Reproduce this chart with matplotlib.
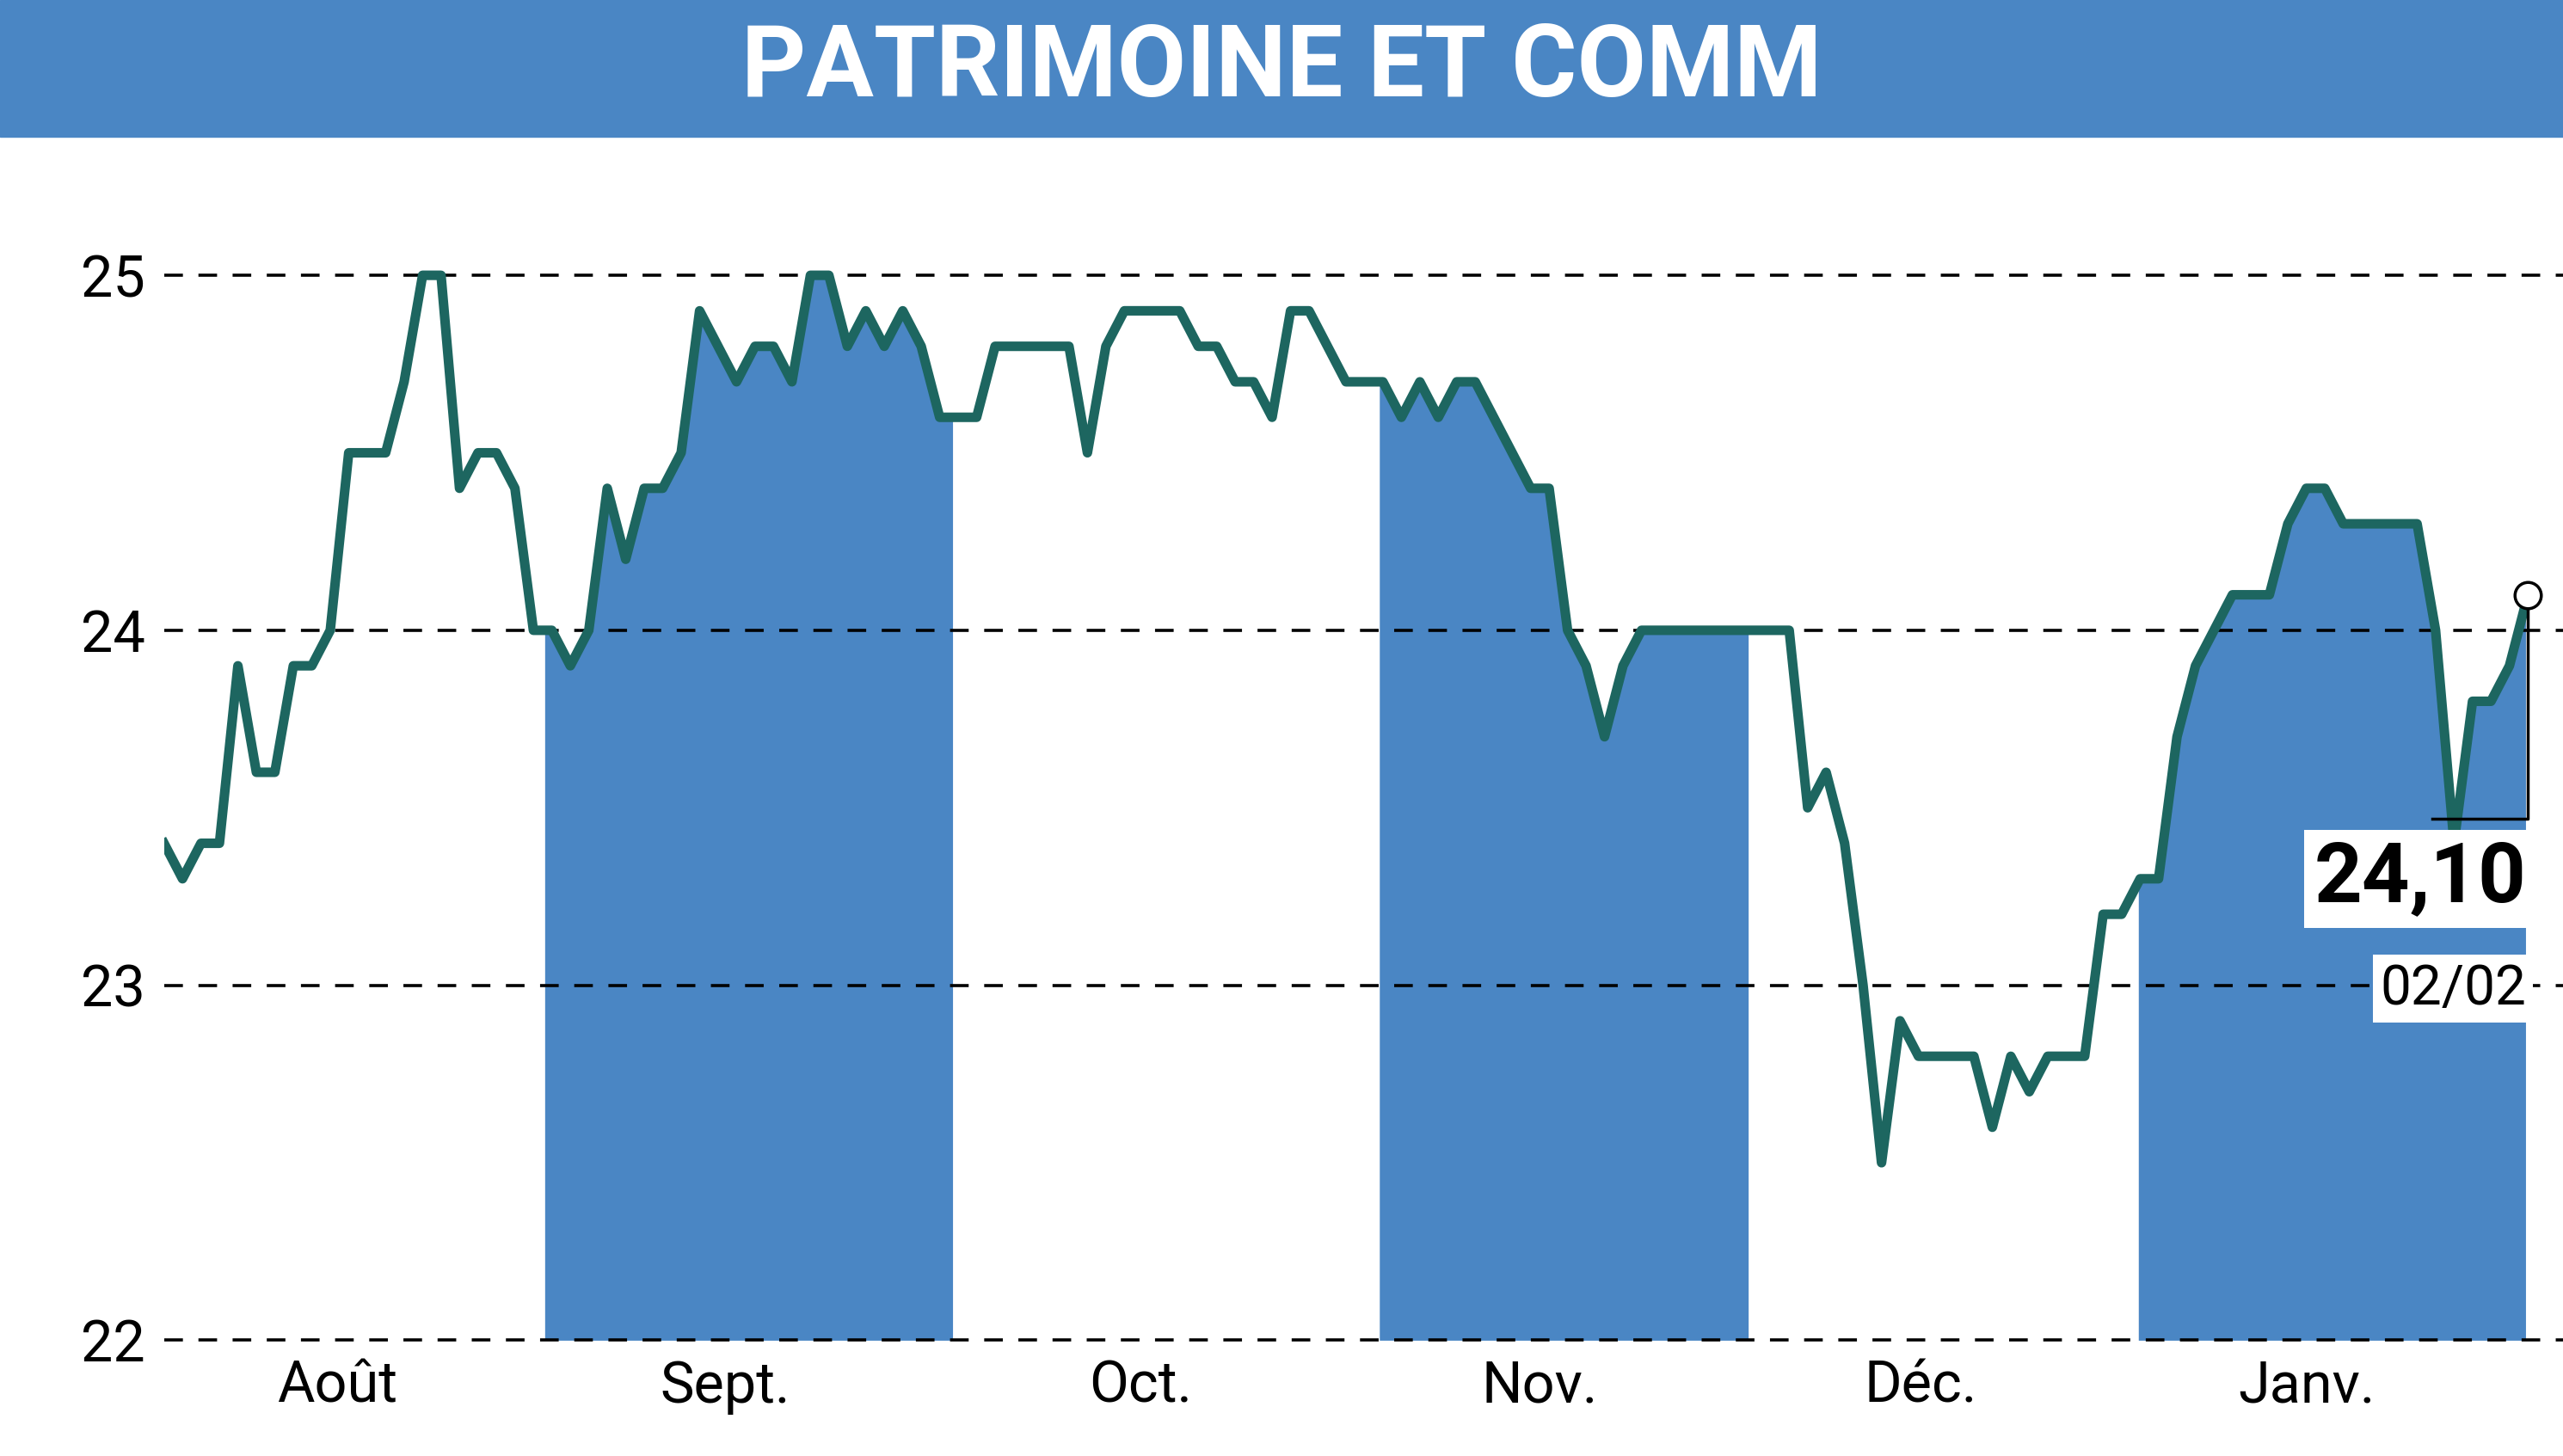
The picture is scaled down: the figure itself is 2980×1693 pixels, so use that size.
import matplotlib
matplotlib.use("Agg")
import matplotlib.pyplot as plt
import numpy as np

title = "PATRIMOINE ET COMM"
values = [23.4,23.3,23.4,23.4,23.9,23.6,23.6,23.9,23.9,24.0,24.5,24.5,24.5,24.7,25.0,25.0,24.4,24.5,24.5,24.4,
          24.0,24.0,23.9,24.0,24.4,24.2,24.4,24.4,24.5,24.9,24.8,24.7,24.8,24.8,24.7,25.0,25.0,24.8,24.9,24.8,
          24.9,24.8,24.6,24.6,24.6,24.8,24.8,24.8,24.8,24.8,24.5,24.8,24.9,24.9,24.9,24.9,24.8,24.8,24.7,24.7,
          24.6,24.9,24.9,24.8,24.7,24.7,24.7,24.6,24.7,24.6,24.7,24.7,24.6,24.5,24.4,24.4,24.0,23.9,23.7,23.9,
          24.0,24.0,24.0,24.0,24.0,24.0,24.0,24.0,24.0,23.5,23.6,23.4,23.0,22.5,22.9,22.8,22.8,22.8,22.8,22.6,
          22.8,22.7,22.8,22.8,22.8,23.2,23.2,23.3,23.3,23.7,23.9,24.0,24.1,24.1,24.1,24.3,24.4,24.4,24.3,24.3,
          24.3,24.3,24.3,24.0,23.4,23.8,23.8,23.9,24.1]
month_labels = ["Août", "Sept.", "Oct.", "Nov.", "Déc.", "Janv."]
month_pos = [9.4, 30.4, 52.9, 74.5, 95.1, 116.0]
shade_spans = [(20.6, 42.7), (65.8, 85.8), (106.9, 127.9)]
yticks = [22, 23, 24, 25]
last_label = "24,10"
last_date = "02/02"

BLUE = "#4a86c4"
LINE = "#1d6660"
plt.rcParams['font.family'] = ["Liberation Sans Narrow", "Roboto", "DejaVu Sans"]

fig = plt.figure(figsize=(29.8, 16.93), dpi=100)
ax = fig.add_axes([0.064, 0.0795, 0.936, 0.8265])
x = np.arange(len(values))
y = np.array(values)
xf = np.linspace(0, len(values) - 1, 4000)
yf = np.interp(xf, x, y)
for a, b in shade_spans:
    m = (xf >= a) & (xf <= b)
    ax.fill_between(xf[m], 22, yf[m], color=BLUE, lw=0, zorder=1)
for t in yticks:
    ax.axhline(t, color="black", lw=2.6, ls=(0, (6, 5)), zorder=2, clip_on=False)
ax.plot(x, y, color=LINE, lw=8, zorder=3, solid_joinstyle="round")
ax.plot([x[-1], x[-1], 122.8], [y[-1], 23.47, 23.47], color="black", lw=2.5, zorder=3)
ax.plot(x[-1], y[-1], 'o', ms=22, mfc="white", mec="black", mew=2.5, zorder=4)
ax.text(127.9, 23.3, last_label, ha="right", va="center", fontsize=70, fontweight="bold",
        bbox=dict(fc="white", ec="none", pad=8), zorder=5)
ax.text(127.9, 22.99, last_date, ha="right", va="center", fontsize=46,
        bbox=dict(fc="white", ec="none", pad=6), zorder=5)
ax.set_xlim(0, 129.9)
ax.set_ylim(22, 25.39)
ax.set_yticks(yticks)
ax.set_yticklabels([str(t) for t in yticks], fontsize=48)
ax.set_xticks(month_pos)
ax.set_xticklabels(month_labels, fontsize=48)
ax.tick_params(length=0, pad=16)
for s in ax.spines.values():
    s.set_visible(False)
fig.patches.append(plt.Rectangle((0, 0.906), 1, 0.094, transform=fig.transFigure, color=BLUE))
fig.text(0.5, 0.953, title, ha="center", va="center", fontsize=84, fontweight="bold", color="white")
fig.savefig("out.png", dpi=100)
